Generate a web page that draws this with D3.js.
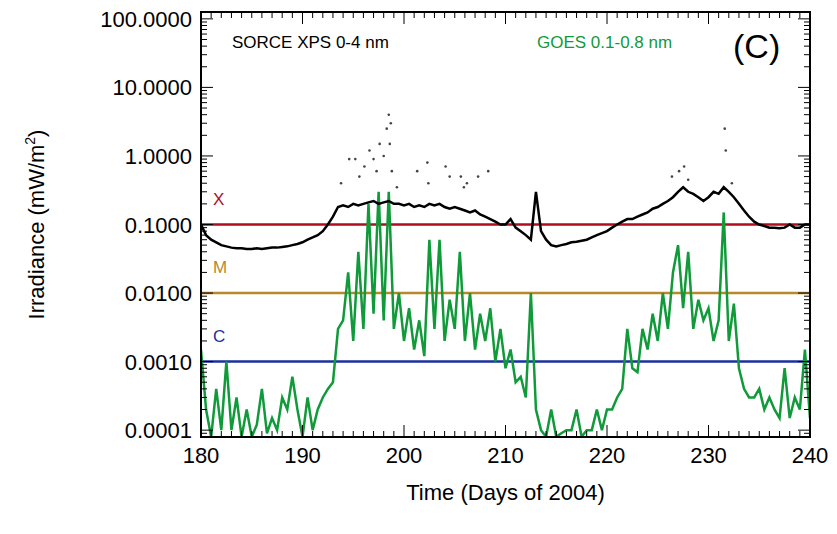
<!DOCTYPE html>
<html>
<head>
<meta charset="UTF-8">
<script src="https://d3js.org/d3.v7.min.js"></script>
<style>
  body { margin: 0; background: #fff; font-family: "Liberation Sans", Arial, sans-serif; }
</style>
</head>
<body>
<svg id="chart" width="837" height="534"></svg>
<script>
// GOES 0.1-0.8 nm, every half day from day 180 to 240
const goesVals = [0.0015,0.0002,0.00008,0.0004,0.0001,0.001,0.0001,0.0003,0.00008,0.0002,
  0.00008,0.00012,0.0004,0.00009,0.00015,0.0001,0.0003,0.0002,0.0006,0.0002,
  0.00008,0.0003,0.0001,0.0002,0.0003,0.0004,0.0005,0.003,0.004,0.02,
  0.002,0.04,0.003,0.2,0.005,0.3,0.004,0.3,0.003,0.01,
  0.002,0.006,0.0015,0.004,0.0012,0.06,0.003,0.06,0.002,0.008,
  0.003,0.04,0.002,0.01,0.0015,0.005,0.002,0.006,0.001,0.003,
  0.0008,0.0015,0.0005,0.0006,0.0003,0.01,0.0002,0.0001,0.00008,0.0002,
  0.00008,0.00009,0.0001,0.0001,0.0002,0.00008,0.0001,0.0001,0.0002,0.0001,
  0.0002,0.0002,0.0003,0.0004,0.003,0.0008,0.0007,0.003,0.0015,0.005,
  0.002,0.01,0.003,0.02,0.05,0.006,0.04,0.003,0.008,0.004,
  0.006,0.002,0.004,0.15,0.002,0.007,0.0008,0.0004,0.0003,0.0003,
  0.0004,0.0002,0.0003,0.0002,0.00015,0.0008,0.00015,0.0003,0.0002,0.0015,0.00015];
// SORCE XPS 0-4 nm background, every half day
const xpsVals = [0.1,0.07,0.06,0.055,0.05,0.048,0.046,0.045,0.045,0.044,
  0.044,0.045,0.044,0.045,0.046,0.046,0.047,0.048,0.05,0.052,
  0.055,0.06,0.065,0.07,0.08,0.1,0.13,0.18,0.19,0.18,
  0.2,0.19,0.2,0.21,0.22,0.2,0.21,0.22,0.2,0.2,
  0.19,0.2,0.18,0.19,0.18,0.2,0.19,0.2,0.18,0.17,
  0.18,0.17,0.16,0.15,0.16,0.14,0.13,0.12,0.11,0.1,
  0.1,0.12,0.09,0.08,0.07,0.06,0.3,0.08,0.06,0.05,
  0.048,0.05,0.052,0.055,0.056,0.058,0.06,0.065,0.07,0.075,
  0.08,0.09,0.1,0.11,0.12,0.12,0.13,0.14,0.15,0.17,
  0.18,0.2,0.22,0.25,0.3,0.35,0.3,0.28,0.25,0.22,
  0.25,0.3,0.28,0.35,0.3,0.25,0.2,0.16,0.13,0.11,
  0.1,0.095,0.09,0.09,0.088,0.09,0.1,0.09,0.09,0.1,0.1];
// isolated XPS flare points
const flareDays = [193.8,194.6,195.2,195.6,196.1,196.6,197.0,197.3,197.6,198.0,198.3,198.5,198.6,198.7,198.8,
  199.3,201.3,202.3,202.4,204.1,204.5,205.6,205.9,206.2,207.3,208.3,226.4,227.1,227.6,228.0,231.6,231.7,232.3];
const flareVals = [0.4,0.9,0.9,0.5,0.7,1.2,0.9,0.6,1.5,1.0,2.5,4.0,1.5,3.0,0.6,
  0.35,0.6,0.8,0.4,0.7,0.5,0.5,0.35,0.4,0.5,0.6,0.5,0.6,0.7,0.45,2.5,1.2,0.4];
const xTicks = [180,190,200,210,220,230,240];
const yTicks = [100,10,1,0.1,0.01,0.001,0.0001];
const levels = [{name:"X", v:0.1, c:"#b00d1e"},{name:"M", v:0.01, c:"#b8892b"},{name:"C", v:0.001, c:"#1a2fa0"}];

const svg = d3.select("#chart");
const L = 201, R = 810, T = 12, B = 437;
const x = d3.scaleLinear().domain([180,240]).range([L,R]);
const y = d3.scaleLog().domain([0.0001/Math.pow(10,0.1), 100*Math.pow(10,0.1)]).range([B,T]);
const days = d3.range(goesVals.length).map(i => 180 + i*0.5);

const g = svg.append("g");
g.append("clipPath").attr("id","clip").append("rect").attr("x",L).attr("y",T).attr("width",R-L).attr("height",B-T);
const plot = g.append("g").attr("clip-path","url(#clip)");

levels.forEach(l => {
  plot.append("line").attr("x1",L).attr("x2",R).attr("y1",y(l.v)).attr("y2",y(l.v))
    .attr("stroke",l.c).attr("stroke-width",2.5);
  g.append("text").attr("x",213).attr("y",y(l.v)-20).attr("font-size",17).attr("fill",l.c).text(l.name);
});

const line = d3.line().x((d,i) => x(days[i])).y(d => y(d));
plot.append("path").datum(goesVals).attr("d",line).attr("fill","none").attr("stroke","#109a3a").attr("stroke-width",2.5);
plot.append("path").datum(xpsVals).attr("d",line).attr("fill","none").attr("stroke","#000").attr("stroke-width",2.5);
plot.selectAll("circle.fl").data(flareDays).enter().append("circle")
  .attr("cx",d => x(d)).attr("cy",(d,i) => y(flareVals[i])).attr("r",1.3).attr("fill","#444");

// frame and ticks
g.append("rect").attr("x",L).attr("y",T).attr("width",R-L).attr("height",B-T).attr("fill","none").attr("stroke","#000").attr("stroke-width",2);
const ax = g.append("g").attr("stroke","#000");
d3.range(180,241).forEach(d => {
  const len = d % 10 === 0 ? 12 : 6;
  ax.append("line").attr("x1",x(d)).attr("x2",x(d)).attr("y1",B).attr("y2",B-len);
  ax.append("line").attr("x1",x(d)).attr("x2",x(d)).attr("y1",T).attr("y2",T+len);
});
y.ticks(60).forEach(v => {
  if (v < y.domain()[0] || v > y.domain()[1]) return;
  const major = yTicks.some(t => Math.abs(t - v) / t < 1e-6);
  const len = major ? 12 : 6;
  ax.append("line").attr("x1",L).attr("x2",L+len).attr("y1",y(v)).attr("y2",y(v));
  ax.append("line").attr("x1",R).attr("x2",R-len).attr("y1",y(v)).attr("y2",y(v));
});

g.selectAll("text.xt").data(xTicks).enter().append("text").attr("x",d => x(d)).attr("y",463)
  .attr("text-anchor","middle").attr("font-size",22).text(d => d);
g.selectAll("text.yt").data(yTicks).enter().append("text").attr("x",192).attr("y",d => y(d)+8)
  .attr("text-anchor","end").attr("font-size",22).text(d => d.toFixed(4));

g.append("text").attr("x",x(210)).attr("y",500).attr("text-anchor","middle").attr("font-size",22).text("Time (Days of 2004)");
const yt = g.append("text").attr("transform",`translate(44,${(T+B)/2}) rotate(-90)`).attr("text-anchor","middle").attr("font-size",22);
yt.append("tspan").text("Irradiance (mW/m");
yt.append("tspan").attr("font-size",14).attr("dy",-9).text("2");
yt.append("tspan").attr("dy",9).text(")");

g.append("text").attr("x",232).attr("y",48).attr("font-size",17).text("SORCE XPS 0-4 nm");
g.append("text").attr("x",537).attr("y",48).attr("font-size",17).attr("fill","#109a3a").text("GOES 0.1-0.8 nm");
g.append("text").attr("x",733).attr("y",58).attr("font-size",34).text("(C)");
</script>
</body>
</html>
